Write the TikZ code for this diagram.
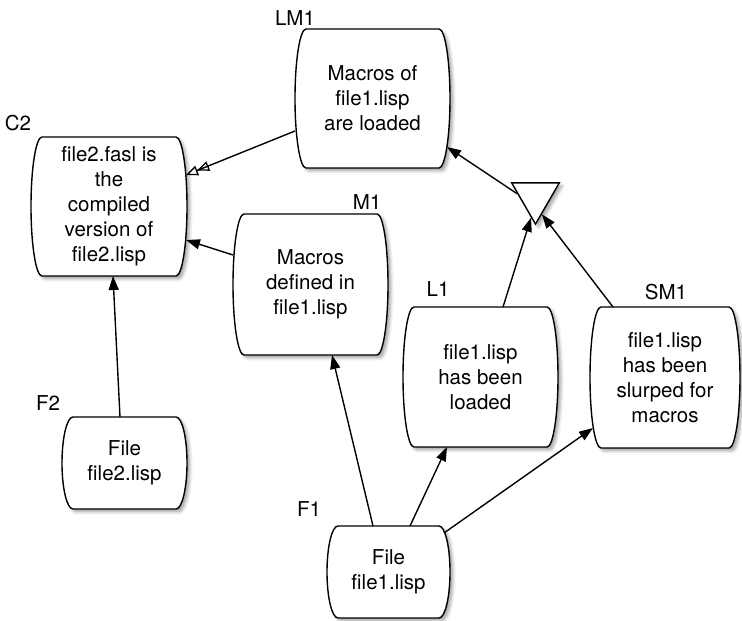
\documentclass[tikz,border=0pt]{standalone}
\usepackage{fontspec}
\setmainfont{TeX Gyre Heros}
\usetikzlibrary{shapes.geometric,arrows.meta,calc,shadows.blur,backgrounds}
\begin{document}
\begin{tikzpicture}[x=1pt,y=1pt,
  blob/.style={rectangle, inner sep=0pt, outer sep=0pt, align=center, font=\fontsize{20.5}{25}\selectfont},
  lbl/.style={inner sep=0pt, font=\fontsize{20.5}{25}\selectfont},
  arr/.style={line width=1.4pt, -{Triangle[length=14pt,width=10pt]}},
  oarr/.style={line width=1.4pt, -{Triangle[open,length=12pt,width=10pt,line width=1.3pt] Triangle[open,length=12pt,width=10pt,line width=1.3pt]}},
  softshadow/.style={blur shadow={shadow xshift=3pt, shadow yshift=-3pt, shadow blur radius=3pt, shadow opacity=35}},
  outline/.style={draw, line width=1.4pt, fill=white, softshadow}
]
\useasboundingbox (0,0) rectangle (742,621);

% nodes (text only; outlines drawn on background layer)
\node[blob, minimum width=155pt, minimum height=139pt] (LM1) at (372.5,522.5) {Macros of\\file1.lisp\\are loaded};
\node[blob, minimum width=156pt, minimum height=139pt] (C2) at (109,414.5) {file2.fasl is\\the\\compiled\\version of\\file2.lisp};
\node[blob, minimum width=155pt, minimum height=141pt] (M1) at (310.5,336.5) {Macros\\defined in\\file1.lisp};
\node[blob, minimum width=155pt, minimum height=140pt] (L1) at (480.5,244) {file1.lisp\\has been\\loaded};
\node[blob, minimum width=150pt, minimum height=141pt] (SM1) at (665,243.5) {file1.lisp\\has been\\slurped for\\macros};
\node[blob, minimum width=125pt, minimum height=92pt] (F2) at (124.5,158) {File\\file2.lisp};
\node[blob, minimum width=123pt, minimum height=92pt] (F1) at (388.5,49) {File\\file1.lisp};

\node[regular polygon, regular polygon sides=3, shape border rotate=180, minimum size=55pt, inner sep=0pt, draw, fill=white, line width=1.4pt, softshadow] (T) at (535.5,424.4) {};

\begin{scope}[on background layer]
\foreach \nd in {LM1,C2,M1,L1,SM1,F2,F1}{
  \path[outline] let \p1=(\nd.north), \p2=(\nd.south), \n1={(\y1-\y2)/2} in
    ([xshift=11pt]\nd.north west) -- ([xshift=-11pt]\nd.north east)
    arc[start angle=90, end angle=-90, x radius=11pt, y radius=\n1]
    -- ([xshift=11pt]\nd.south west)
    arc[start angle=270, end angle=90, x radius=11pt, y radius=\n1] -- cycle;
}
\end{scope}

% labels
\node[lbl] (tLM1) at (295,603) {LM1};
\node[lbl] (tC2) at (18,498) {C2};
\node[lbl] (tM1) at (367,419) {M1};
\node[lbl] (tL1) at (438,332) {L1};
\node[lbl] (tSM1) at (666,329) {SM1};
\node[lbl] (tF2) at (48,218) {F2};
\node[lbl] (tF1) at (309,112) {F1};

% connectors
\draw[oarr] ([yshift=-32.5pt]LM1.west) -- ([xshift=-1pt,yshift=31.5pt]C2.east);
\draw[arr] ([yshift=29.5pt]M1.west) -- ([xshift=-1pt,yshift=-33.5pt]C2.east);
\draw[arr] ([xshift=-4.5pt]F2.north) -- ([xshift=4pt]C2.south);
\draw[arr] (T.171) -- ([xshift=-3pt,yshift=-48.5pt]LM1.east);
\draw[arr] ([xshift=22.5pt]L1.north) -- (T.258);
\draw[arr] ([xshift=23pt]SM1.north west) -- (T.290);
\draw[arr] ([xshift=-15.5pt]F1.north) -- ([xshift=21.5pt]M1.south);
\draw[arr] ([xshift=21.5pt]F1.north) -- ([xshift=-33.5pt]L1.south);
\draw[arr] ([xshift=-6pt,yshift=39pt]F1.east) -- ([xshift=3pt,yshift=-50.5pt]SM1.west);
\end{tikzpicture}
\end{document}
